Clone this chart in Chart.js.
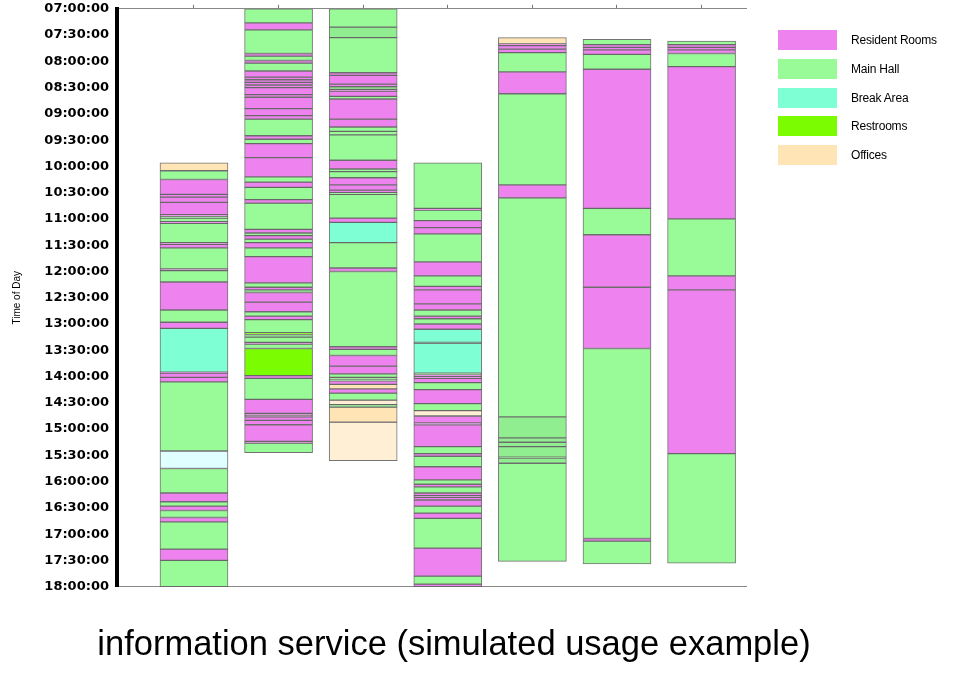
<!DOCTYPE html>
<html>
<head>
<meta charset="utf-8">
<script src="https://cdn.jsdelivr.net/npm/chart.js@4/dist/chart.umd.min.js"></script>
<style>
html,body{margin:0;padding:0;background:#fff;}
#wrap{position:relative;width:960px;height:688px;overflow:hidden;}
#graph{position:absolute;left:0;top:-7px;}
#legend{position:absolute;left:778px;top:30px;font:12px "Liberation Sans",Arial,sans-serif;color:#000;}
.item{position:relative;height:28.75px;}
.sw{position:absolute;left:0;top:0;width:59px;height:20px;}
.lb{position:absolute;left:73px;top:3px;white-space:nowrap;letter-spacing:-0.2px;}
#title{position:absolute;left:0;top:624px;width:908px;text-align:center;font:34.5px "Liberation Sans",Arial,sans-serif;color:#000;}
</style>
</head>
<body>
<div id="wrap">
<canvas id="graph" width="960" height="695"></canvas>
<div id="legend"></div>
<div id="title">information service (simulated usage example)</div>
</div>
<script>

// visits per user column: [from, to, location]
// R resident rooms, M main hall, B break area, W restrooms, O offices
// C, G, P: other places (not in legend)
const col1=[
["09:56","10:05","O"],["10:05","10:15","M"],["10:15","10:32","R"],["10:32","10:35","R"],
["10:35","10:41","R"],["10:41","10:55","R"],["10:55","10:57","R"],["10:57","10:59","M"],
["10:59","11:03","M"],["11:03","11:05","R"],["11:05","11:27","M"],["11:27","11:29","R"],
["11:29","11:33","R"],["11:33","11:57","M"],["11:57","11:59","R"],["11:59","12:12","M"],
["12:12","12:44","R"],["12:44","12:58","M"],["12:58","13:05","R"],["13:05","13:55","B"],
["13:55","13:56","R"],["13:56","14:01","R"],["14:01","14:06","R"],["14:06","15:25","M"],
["15:25","15:45","C"],["15:45","16:13","M"],["16:13","16:23","R"],["16:23","16:28","M"],
["16:28","16:33","R"],["16:33","16:41","M"],["16:41","16:46","R"],["16:46","17:17","M"],
["17:17","17:30","R"],["17:30","18:00","M"]
];

const col2=[
["07:00","07:16","M"],["07:16","07:24","R"],["07:24","07:51","M"],["07:51","07:54","R"],
["07:54","07:59","M"],["07:59","08:02","R"],["08:02","08:11","M"],["08:11","08:18","R"],
["08:18","08:21","R"],["08:21","08:24","R"],["08:24","08:27","R"],["08:27","08:30","R"],
["08:30","08:38","R"],["08:38","08:41","R"],["08:41","08:54","R"],["08:54","09:02","R"],
["09:02","09:06","R"],["09:06","09:25","M"],["09:25","09:29","R"],["09:29","09:34","M"],
["09:34","09:50","R"],["09:50","10:12","R"],["10:12","10:18","M"],["10:18","10:24","R"],
["10:24","10:38","M"],["10:38","10:42","R"],["10:42","11:12","M"],["11:12","11:16","R"],
["11:16","11:19","M"],["11:19","11:23","R"],["11:23","11:27","M"],["11:27","11:33","R"],
["11:33","11:43","M"],["11:43","12:13","R"],["12:13","12:18","M"],["12:18","12:21","R"],
["12:21","12:24","M"],["12:24","12:35","R"],["12:35","12:46","R"],["12:46","12:51","M"],
["12:51","12:55","R"],["12:55","13:10","M"],["13:10","13:12","W"],["13:12","13:15","M"],
["13:15","13:21","M"],["13:21","13:23","R"],["13:23","13:28","M"],["13:28","13:59","W"],
["13:59","14:02","R"],["14:02","14:26","M"],["14:26","14:42","R"],["14:42","14:44","R"],
["14:44","14:46","R"],["14:46","14:50","R"],["14:50","14:55","R"],["14:55","15:14","R"],
["15:14","15:16","R"],["15:16","15:27","M"]
];

const col3=[
["07:00","07:21","M"],["07:21","07:33","G"],["07:33","08:13","M"],["08:13","08:16","R"],
["08:16","08:26","R"],["08:26","08:29","R"],["08:29","08:32","M"],["08:32","08:34","R"],
["08:34","08:40","R"],["08:40","08:43","M"],["08:43","09:06","R"],["09:06","09:15","R"],
["09:15","09:20","M"],["09:20","09:24","M"],["09:24","09:53","M"],["09:53","10:03","R"],
["10:03","10:06","M"],["10:06","10:13","M"],["10:13","10:21","R"],["10:21","10:27","R"],
["10:27","10:30","R"],["10:30","10:32","M"],["10:32","10:59","M"],["10:59","11:04","R"],
["11:04","11:27","B"],["11:27","11:56","M"],["11:56","12:00","R"],["12:00","13:26","M"],
["13:26","13:29","R"],["13:29","13:36","M"],["13:36","13:48","R"],["13:48","13:57","R"],
["13:57","14:01","M"],["14:01","14:03","G"],["14:03","14:05","M"],["14:05","14:09","R"],
["14:09","14:14","O"],["14:14","14:19","R"],["14:19","14:27","M"],["14:27","14:32","P"],
["14:32","14:35","M"],["14:35","14:52","O"],["14:52","15:36","P"]
];

const col4=[
["09:56","10:48","M"],["10:48","10:50","R"],["10:50","11:02","M"],["11:02","11:10","R"],
["11:10","11:17","R"],["11:17","11:49","M"],["11:49","12:05","R"],["12:05","12:17","M"],
["12:17","12:21","R"],["12:21","12:37","R"],["12:37","12:44","R"],["12:44","12:51","M"],
["12:51","12:54","R"],["12:54","13:00","M"],["13:00","13:06","R"],["13:06","13:21","B"],
["13:21","13:22","B"],["13:22","13:56","B"],["13:56","13:58","M"],["13:58","14:00","R"],
["14:00","14:02","R"],["14:02","14:07","R"],["14:07","14:15","M"],["14:15","14:31","R"],
["14:31","14:39","M"],["14:39","14:45","P"],["14:45","14:53","R"],["14:53","14:55","R"],
["14:55","15:20","R"],["15:20","15:28","M"],["15:28","15:31","R"],["15:31","15:43","M"],
["15:43","15:58","R"],["15:58","16:03","M"],["16:03","16:06","R"],["16:06","16:13","M"],
["16:13","16:16","R"],["16:16","16:18","R"],["16:18","16:21","R"],["16:21","16:28","R"],
["16:28","16:36","M"],["16:36","16:42","R"],["16:42","17:16","M"],["17:16","17:48","R"],
["17:48","17:57","M"],["17:57","18:00","R"]
];

const col5=[
["07:33","07:40","O"],["07:40","07:42","R"],["07:42","07:46","R"],["07:46","07:50","R"],
["07:50","08:12","M"],["08:12","08:37","R"],["08:37","10:21","M"],["10:21","10:36","R"],
["10:36","14:46","M"],["14:46","15:10","G"],["15:10","15:15","G"],["15:15","15:20","G"],
["15:20","15:32","G"],["15:32","15:33","G"],["15:33","15:39","G"],["15:39","17:31","M"]
];

const col6=[
["07:35","07:41","M"],["07:41","07:44","R"],["07:44","07:47","R"],["07:47","07:52","R"],
["07:52","08:09","M"],["08:09","10:48","R"],["10:48","11:18","M"],["11:18","12:18","R"],
["12:18","13:28","R"],["13:28","17:05","M"],["17:05","17:08","R"],["17:08","17:34","M"]
];

const col7=[
["07:37","07:41","M"],["07:41","07:44","R"],["07:44","07:47","R"],["07:47","07:51","R"],
["07:51","08:06","M"],["08:06","11:00","R"],["11:00","12:05","M"],["12:05","12:21","R"],
["12:21","15:28","R"],["15:28","17:33","M"]
];

const columns=[col1,col2,col3,col4,col5,col6,col7];
const columnIds=[1,2,3,4,5,6,7];

const legendCodes=["R","M","B","W","O"];
const legendNames=["Resident Rooms","Main Hall","Break Area","Restrooms","Offices"];

const locColors={
R:"#ee82ee",M:"#98fb98",B:"#7fffd4",W:"#7cfc00",O:"#ffe4b5",
C:"#e0ffff",G:"#90ee90",P:"#ffefd5"
};

function toHours(s){
let p=s.split(":");
return parseInt(p[0])+parseInt(p[1])/60;
}

function fmtTime(v){
let h=Math.floor(v+1e-9);
let m=Math.round((v-h)*60);
return String(h).padStart(2,"0")+":"+String(m).padStart(2,"0")+":00";
}

// one dataset per segment index, bars overlap at each column
let maxSeg=Math.max(...columns.map(c=>c.length));
let datasets=[];
for(let i=0;i<maxSeg;i++){
let pts=[];
columns.forEach((col,k)=>{
if(col[i]) pts.push({x:columnIds[k],y:[toHours(col[i][0]),toHours(col[i][1])],loc:col[i][2]});
});
datasets.push({
data:pts,
grouped:false,
barThickness:68,
borderWidth:1,
borderColor:"rgba(90,90,90,0.85)",
borderSkipped:false,
backgroundColor:ctx=>ctx.raw?locColors[ctx.raw.loc]:"#ccc"
});
}

let legend=document.getElementById("legend");
legendCodes.forEach((c,i)=>{
let d=document.createElement("div");
d.className="item";
d.innerHTML='<div class="sw" style="background:'+locColors[c]+'"></div><div class="lb">'+legendNames[i]+'</div>';
legend.appendChild(d);
});

new Chart(document.getElementById("graph"),{
type:"bar",
data:{datasets:datasets},
options:{
responsive:false,
animation:false,
layout:{autoPadding:false,padding:{left:0,right:214,top:0,bottom:0}},
plugins:{legend:{display:false},tooltip:{enabled:false}},
scales:{
x:{
type:"linear",position:"bottom",min:0.09,max:7.525,offset:false,
ticks:{display:false},
grid:{display:true,drawOnChartArea:false,drawTicks:false,offset:false},
border:{display:true,color:"#888",width:1},
afterFit:s=>{s.height=101.3;}
},
x2:{
type:"linear",position:"top",min:0.09,max:7.525,offset:false,
afterBuildTicks:s=>{s.ticks=columnIds.map(v=>({value:v}));},
ticks:{display:false},
grid:{display:true,drawOnChartArea:false,drawTicks:true,tickLength:4,color:"#777",offset:false},
border:{display:true,color:"#888",width:1},
afterFit:s=>{s.height=8;}
},
y:{
type:"linear",reverse:true,min:7,max:18,
ticks:{stepSize:0.5,autoSkip:false,padding:8,color:"#000",
font:{family:"DejaVu Sans",size:13,weight:"bold"},
callback:v=>fmtTime(v)},
grid:{display:true,drawOnChartArea:false,drawTicks:false,color:"rgba(0,0,0,0)"},
border:{display:true,color:"#000",width:4},
title:{display:true,text:"Time of Day",color:"#000",
font:{family:"Liberation Sans",size:10},padding:{top:11,bottom:0}},
afterFit:s=>{s.width=117;}
}
}
}
});
</script>
</body>
</html>
